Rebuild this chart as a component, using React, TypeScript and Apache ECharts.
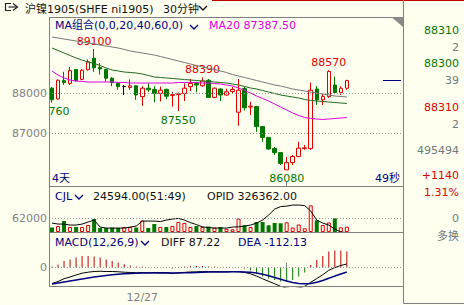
import React, { useEffect, useRef } from 'react';
import * as echarts from 'echarts';

// ---- data ----
// [open, close, lowest, highest]
const candles: number[][] = [
  [88120, 87830, 87760, 88150],
  [87850, 88320, 87840, 88340],
  [88310, 88260, 88200, 88530],
  [88240, 88560, 88200, 88650],
  [88590, 88310, 88280, 88600],
  [88340, 88570, 88320, 88600],
  [88580, 88780, 88560, 88840],
  [88870, 88630, 88530, 89100],
  [88640, 88600, 88460, 88750],
  [88590, 88370, 88280, 88600],
  [88370, 88260, 88170, 88400],
  [88240, 88160, 88080, 88280],
  [88160, 88160, 87950, 88200],
  [88140, 88180, 88080, 88340],
  [88180, 87950, 87830, 88190],
  [87910, 88120, 87680, 88170],
  [88120, 88080, 88030, 88240],
  [88090, 87990, 87770, 88170],
  [87990, 88070, 87790, 88160],
  [88090, 87920, 87840, 88110],
  [87940, 87960, 87660, 88030],
  [87960, 87980, 87550, 88010],
  [87990, 88120, 87800, 88240],
  [88160, 88240, 88050, 88350],
  [88240, 88200, 88020, 88280],
  [88180, 88300, 88160, 88390],
  [88320, 87890, 87880, 88350],
  [87890, 88120, 87870, 88140],
  [88100, 87950, 87800, 88120],
  [87950, 88030, 87930, 88110],
  [88040, 88090, 88000, 88150],
  [87520, 88070, 87180, 88350],
  [88110, 87630, 87560, 88150],
  [87650, 87670, 87450, 87780],
  [87660, 87160, 87030, 87680],
  [87160, 86890, 86780, 87170],
  [86890, 86600, 86580, 86900],
  [86610, 86510, 86450, 86650],
  [86510, 86240, 86200, 86520],
  [86080, 86260, 86080, 86400],
  [86260, 86410, 86200, 86450],
  [86410, 86620, 86400, 86780],
  [86610, 86630, 86580, 86700],
  [86610, 88070, 86580, 88260],
  [88100, 87830, 87700, 88170],
  [87830, 87910, 87700, 87990],
  [87910, 88540, 87880, 88570],
  [88200, 88010, 87990, 88410],
  [88010, 88120, 87950, 88170],
  [88120, 88310, 88080, 88330],
];

const ma20 = [
  88550, 88450, 88375, 88325, 88300, 88288, 88275, 88275, 88275, 88275,
  88275, 88263, 88263, 88250, 88250, 88250, 88250, 88250, 88250, 88250,
  88250, 88263, 88263, 88263, 88263, 88250, 88250, 88238, 88225, 88200,
  88175, 88125, 88063, 88000, 87925, 87863, 87800, 87725, 87650, 87575,
  87500, 87438, 87388, 87363, 87350, 87338, 87350, 87363, 87375, 87387.5,
];
const ma40 = [
  89125, 89063, 89000, 88938, 88875, 88825, 88775, 88738, 88688, 88625,
  88575, 88550, 88525, 88513, 88500, 88475, 88438, 88400, 88388, 88375,
  88363, 88350, 88338, 88325, 88313, 88300, 88288, 88275, 88263, 88250,
  88225, 88200, 88163, 88125, 88100, 88063, 88025, 87988, 87950, 87925,
  87900, 87875, 87838, 87813, 87800, 87788, 87775, 87763, 87750, 87738,
];
const ma60 = [
  89400, 89375, 89350, 89325, 89300, 89275, 89250, 89225, 89200, 89175,
  89150, 89125, 89088, 89050, 89025, 89000, 88975, 88950, 88913, 88875,
  88838, 88800, 88763, 88725, 88688, 88650, 88613, 88588, 88550, 88513,
  88463, 88425, 88388, 88350, 88313, 88275, 88238, 88200, 88175, 88138,
  88100, 88075, 88050, 88025, 88000, 87975, 87950, 87925, 87913, 87900,
];

const volumes = [
  20800, 27800, 50900, 23100, 23100, 23100, 32400, 60200, 18500, 18500,
  19900, 18500, 23100, 23100, 20800, 53200, 18500, 37000, 23100, 23100,
  27800, 46300, 41600, 23100, 27800, 23100, 25400, 20800, 23100, 15300,
  12500, 62000, 31000, 23100, 46300, 46300, 31000, 41600, 40300, 44900,
  20800, 34700, 17600, 123500, 54100, 32400, 44000, 63400, 21700, 24594,
];
const openInterest = [
  327790, 327640, 327640, 327490, 327490, 327640, 327940, 328240, 327190, 327040,
  327040, 327040, 327040, 327190, 327340, 328090, 328090, 328090, 328010, 328240,
  328390, 328490, 328240, 327860, 327560, 327230, 327110, 327040, 327040, 327040,
  327190, 327230, 327340, 327490, 327790, 328240, 328990, 329890, 330260, 330340,
  330490, 330490, 330410, 329590, 328240, 327790, 327490, 326890, 326440, 326362,
];

const dea = [
  -411, -386, -361, -336, -311, -286, -261, -237, -217, -199,
  -182, -169, -159, -149, -144, -139, -137, -134, -134, -134,
  -137, -137, -134, -129, -125, -120, -115, -112, -110, -110,
  -107, -107, -110, -120, -139, -169, -207, -249, -294, -336,
  -374, -398, -406, -398, -369, -324, -269, -214, -162, -112.13,
];
const diff = [
  -399, -349, -279, -237, -187, -142, -117, -100, -93, -100,
  -100, -107, -118, -124, -132, -127, -131, -134, -140, -140,
  -150, -131, -122, -111, -107, -102, -103, -100, -104, -104,
  -101, -107, -123, -158, -214, -281, -344, -405, -469, -511,
  -530, -510, -469, -367, -276, -181, -70, -3, 50, 87.22,
];
const macd = [
  25, 75, 164, 199, 249, 289, 289, 274, 249, 199,
  164, 125, 82, 50, 25, 25, 12, 0, -12, -12,
  -25, 12, 25, 37, 37, 37, 25, 25, 12, 12,
  12, 0, -25, -75, -149, -224, -274, -311, -349, -349,
  -311, -224, -125, 62, 187, 286, 398, 423, 423, 398.7,
];

const priceTicks = [87000, 88000];
const volumeTicks = [62000];
const macdTicks = [0];
const highMarks = [7, 25, 46];
const lowMarks = [0, 21, 39];
const slotCount = 59;
const dateLabel = '12/27';
const dateIndex = 15;
const tickIndex = 39;
const lastPrice = 88310;
const sideTexts = ['88310', '2', '88300', '39', '88310', '2', '495494', '+1140', '1.31%', '0', '多换'];
const sideKinds = ['g', 'n', 'g', 'n', 'r', 'n', 'n', 'r', 'r', 'n', 'n'];

// ---- styles ----
const BG = '#FFFFF0';
const RED = '#E00000';
const GREEN = '#007800';
const NAVY = '#000080';
const GRAY = '#808080';
const SIDE_GRAY = '#6C7C7C';
const FF = '"DejaVu Sans", "Noto Sans CJK SC", sans-serif';
const FONT = `11px ${FF}`;

function txt(text: string, x: number, y: number, fill: string, align = 'left', font = FONT) {
  return {
    type: 'text', x, y, z: 20,
    style: { text, fill, font, align, verticalAlign: 'middle', textAlign: align, textVerticalAlign: 'middle' },
  };
}
function ln(x1: number, y1: number, x2: number, y2: number, stroke = GRAY) {
  return { type: 'line', z: 20, shape: { x1, y1, x2, y2 }, style: { stroke, lineWidth: 1 } };
}
function chevron(x: number, y: number, stroke = NAVY) {
  return { type: 'polyline', z: 20, shape: { points: [[x, y], [x + 4, y + 4], [x + 8, y]] }, style: { stroke, lineWidth: 1.3, fill: null } };
}

export default function App() {
  const ref = useRef<HTMLDivElement>(null);
  useEffect(() => {
    const chart = echarts.init(ref.current!, null, { renderer: 'svg' });
    const cats = Array.from({ length: slotCount }, (_, i) => String(i));
    const up = candles.map((c) => c[1] >= c[0]);
    const extremes = [
      ...highMarks.map((i) => ({ i, price: candles[i][3], high: true })),
      ...lowMarks.map((i) => ({ i, price: candles[i][2], high: false })),
    ];
    const grids = [
      { left: 49, top: 17, width: 355, height: 170 },
      { left: 49, top: 187, width: 355, height: 45 },
      { left: 49, top: 232, width: 355, height: 55 },
    ];
    const baseX = {
      type: 'category', data: cats, boundaryGap: true,
      axisLine: { show: false }, axisTick: { show: false }, axisLabel: { show: false }, splitLine: { show: false },
    };
    const tick = { show: true, alignWithLabel: true, inside: true, length: 5, interval: (i: number) => i === tickIndex, lineStyle: { color: GRAY } };
    const labelStyle = { color: GRAY, fontSize: 11, fontFamily: FF, margin: 2, formatter: (v: number) => String(v) };
    const baseY = { type: 'value', axisLine: { show: false }, axisTick: { show: false }, splitLine: { show: false } };
    const dotted = { type: [1, 2], color: '#9A9A9A', width: 1 };
    const sideY = [30, 47, 63, 80, 107, 124, 150, 175, 192, 218, 236];
    const sideColor: Record<string, string> = { g: GREEN, r: RED, n: SIDE_GRAY };

    const graphic: any[] = [
      ln(212, 0.5, 464, 0.5, '#C00000'),
      ln(49.5, 17.5, 403.5, 17.5),
      ln(49.5, 17, 49.5, 287),
      ln(403.5, 0, 403.5, 303.5),
      ln(49.5, 186.5, 403.5, 186.5),
      ln(49.5, 232.5, 403.5, 232.5),
      ln(49.5, 286.5, 403.5, 286.5),
      ln(403.5, 303.5, 464, 303.5),
      { type: 'polygon', z: 20, shape: { points: [[392, 17.5], [403, 17.5], [403, 27]] }, style: { fill: '#8A8A8A' } },
      { type: 'polyline', z: 20, shape: { points: [[11, 3.5], [5.5, 3.5], [5.5, 10.5], [11, 10.5]] }, style: { stroke: '#222', lineWidth: 1.2, fill: null } },
      { type: 'polyline', z: 20, shape: { points: [[13, 3.5], [17.5, 7], [13, 10.5]] }, style: { stroke: '#222', lineWidth: 1.2, fill: null } },
      { type: 'polyline', z: 20, shape: { points: [[8.5, 7], [17, 7]] }, style: { stroke: '#222', lineWidth: 1.2, fill: null } },
      txt('沪镍1905(SHFE ni1905)', 25, 9, '#111'),
      txt('30分钟', 163, 9, '#111'),
      chevron(199, 6, '#111'),
      txt('MA组合(0,0,20,40,60,0)', 55, 25, NAVY),
      chevron(190, 25),
      txt(`MA20 ${ma20[ma20.length - 1].toFixed(2)}`, 209, 25, '#E000E0'),
      txt('4天', 52, 178, NAVY),
      txt('49秒', 375, 178, NAVY),
      txt('CJL', 55, 196, NAVY),
      chevron(75, 195),
      txt(`${volumes[volumes.length - 1].toFixed(2)}(51:49)`, 93, 196, '#111'),
      txt(`OPID ${openInterest[openInterest.length - 1].toFixed(2)}`, 207, 196, '#111'),
      txt('MACD(12,26,9)', 55, 242, NAVY),
      chevron(141, 241),
      txt(`DIFF ${diff[diff.length - 1].toFixed(2)}`, 161, 242, '#111'),
      txt(`DEA ${dea[dea.length - 1].toFixed(2)}`, 238, 242, NAVY),
      ...sideTexts.map((t, k) => txt(t, 459, sideY[k], sideColor[sideKinds[k]], 'right')),
    ];

    const option: any = {
      animation: false,
      backgroundColor: BG,
      grid: grids,
      xAxis: [
        { ...baseX, gridIndex: 0, axisTick: tick },
        { ...baseX, gridIndex: 1 },
        {
          ...baseX, gridIndex: 2, axisTick: tick,
          axisLabel: { show: true, interval: 0, color: GRAY, fontSize: 11, fontFamily: FF, margin: 5, formatter: (_v: string, i: number) => (i === dateIndex ? dateLabel : '') },
        },
      ],
      yAxis: [
        { ...baseY, gridIndex: 0, min: 85650, max: 89900, axisLabel: { ...labelStyle, customValues: priceTicks } },
        { ...baseY, gridIndex: 1, min: 0, max: 208000, axisLabel: { ...labelStyle, customValues: volumeTicks } },
        { ...baseY, gridIndex: 1, min: 326450, max: 333200, show: false },
        { ...baseY, gridIndex: 2, min: -486, max: 884, axisLabel: { ...labelStyle, customValues: macdTicks } },
      ],
      graphic,
      series: [
        {
          type: 'candlestick', xAxisIndex: 0, yAxisIndex: 0, data: candles, barWidth: 4,
          itemStyle: { color: BG, color0: GREEN, borderColor: RED, borderColor0: GREEN, borderColorDoji: '#000', borderWidth: 1 },
          markLine: {
            silent: true, symbol: ['none', 'none'], label: { show: false }, lineStyle: dotted,
            data: [
              ...priceTicks.map((v) => ({ yAxis: v })),
              [{ coord: [55, lastPrice], lineStyle: { type: 'solid', color: NAVY, width: 1 } }, { coord: [58, lastPrice] }],
            ],
          },
        },
        { type: 'line', xAxisIndex: 0, yAxisIndex: 0, data: ma60, symbol: 'none', lineStyle: { width: 1, color: '#777777' } },
        { type: 'line', xAxisIndex: 0, yAxisIndex: 0, data: ma40, symbol: 'none', lineStyle: { width: 1, color: '#1F6B1F' } },
        { type: 'line', xAxisIndex: 0, yAxisIndex: 0, data: ma20, symbol: 'none', lineStyle: { width: 1, color: '#E000E0' } },
        {
          type: 'custom', xAxisIndex: 0, yAxisIndex: 0, clip: true,
          data: extremes.map((e) => [e.i, e.price]),
          renderItem: (params: any, api: any) => {
            const e = extremes[params.dataIndex];
            const pt = api.coord([api.value(0), api.value(1)]);
            return {
              type: 'text', x: pt[0], y: pt[1] + (e.high ? -8 : 9),
              style: { text: String(e.price), fill: e.high ? RED : GREEN, font: FONT, align: 'center', verticalAlign: 'middle', textAlign: 'center', textVerticalAlign: 'middle' },
            };
          },
        },
        {
          type: 'bar', xAxisIndex: 1, yAxisIndex: 1, barWidth: 4,
          data: volumes.map((v, i) => ({ value: v, itemStyle: up[i] ? { color: BG, borderColor: RED, borderWidth: 1 } : { color: GREEN } })),
          markLine: { silent: true, symbol: ['none', 'none'], label: { show: false }, lineStyle: dotted, data: volumeTicks.map((v) => ({ yAxis: v })) },
        },
        { type: 'line', xAxisIndex: 1, yAxisIndex: 2, data: openInterest, symbol: 'none', lineStyle: { width: 1, color: '#000' } },
        {
          type: 'bar', xAxisIndex: 2, yAxisIndex: 3, barWidth: 1,
          data: macd.map((v) => ({ value: v, itemStyle: { color: v >= 0 ? '#C00000' : GREEN } })),
          markLine: { silent: true, symbol: ['none', 'none'], label: { show: false }, lineStyle: dotted, data: macdTicks.map((v) => ({ yAxis: v })) },
        },
        { type: 'line', xAxisIndex: 2, yAxisIndex: 3, data: diff, symbol: 'none', lineStyle: { width: 1, color: '#000' } },
        { type: 'line', xAxisIndex: 2, yAxisIndex: 3, data: dea, symbol: 'none', lineStyle: { width: 1.5, color: NAVY } },
      ],
    };
    chart.setOption(option);
    return () => chart.dispose();
  }, []);
  return <div ref={ref} style={{ position: 'fixed', left: 0, top: 0, width: 464, height: 305, background: BG }} />;
}
